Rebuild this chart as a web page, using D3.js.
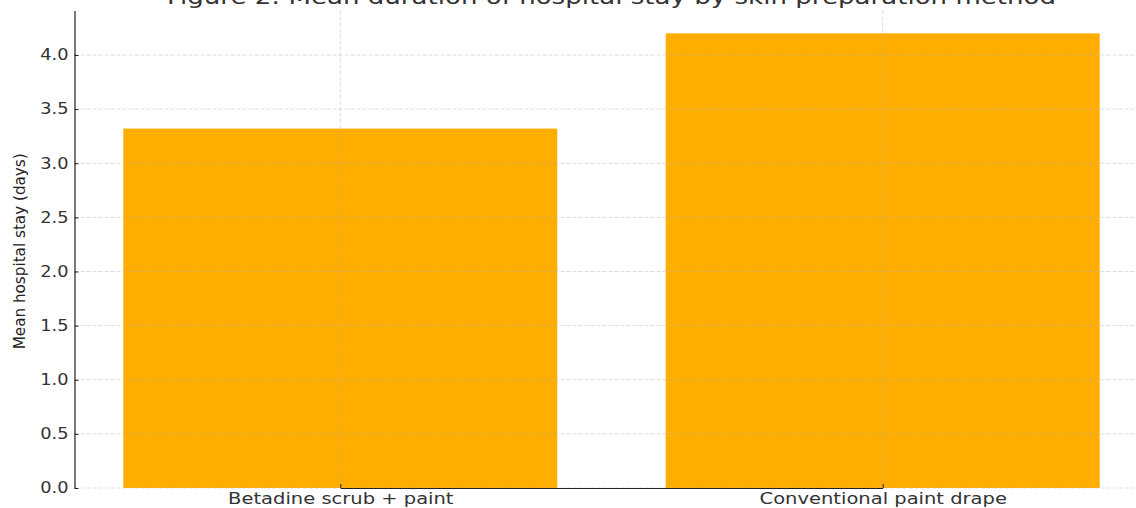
<!DOCTYPE html>
<html><head><meta charset="utf-8">
<script src="https://cdn.jsdelivr.net/npm/d3@7"></script>
<style>body{margin:0;background:#fff}svg{display:block}</style>
</head><body>
<svg id="c" width="1136" height="508"></svg>
<script>
const categories = ["Betadine scrub + paint", "Conventional paint drape"];
const values = [3.32, 4.2];
const yTicks = [0, 0.5, 1.0, 1.5, 2.0, 2.5, 3.0, 3.5, 4.0];
const title = "Figure 2: Mean duration of hospital stay by skin preparation method";
const yLabel = "Mean hospital stay (days)";

(function(){
const svg = d3.select("#c");
const pl = 74.5, pr = 1148.5, pt = 10.6, pb = 488;
const ymax = d3.max(values) * 1.05;
function widen(sel, k){
  sel.each(function(){
    const w = this.getComputedTextLength();
    d3.select(this).attr("textLength", w*k).attr("lengthAdjust", "spacingAndGlyphs");
  });
}

const step = (pr - pl) / (categories.length - 1 + 0.98);
const xc = d3.scalePoint().domain(categories).range([pl + 0.49*step, pr - 0.49*step]);
const y = d3.scaleLinear().domain([0, ymax]).range([pb, pt]);

// bars
svg.append("g").selectAll("rect").data(values).join("rect")
  .attr("x", (d,i)=>xc(categories[i]) - 0.4*step)
  .attr("width", 0.8*step)
  .attr("y", d=>y(d)).attr("height", d=>pb - y(d))
  .attr("fill", "#ffae00");

// grid (on top, semi-transparent)
const grid = svg.append("g").attr("stroke", "#b0b0b0").attr("stroke-opacity", 0.55)
  .attr("stroke-width", 0.8).attr("stroke-dasharray", "4,2");
grid.selectAll("line.h").data(yTicks).join("line").attr("class","h")
  .attr("x1", pl).attr("x2", pr).attr("y1", d=>y(d)).attr("y2", d=>y(d));
grid.selectAll("line.v").data(categories).join("line").attr("class","v")
  .attr("x1", d=>xc(d)).attr("x2", d=>xc(d)).attr("y1", pt).attr("y2", pb);

// y axis
const ya = d3.axisLeft(y).tickValues(yTicks).tickFormat(d3.format(".1f")).tickSizeInner(-4).tickSizeOuter(0).tickPadding(6);
const gy = svg.append("g").attr("transform", `translate(${pl},0)`).call(ya);
gy.select(".domain").attr("stroke", "#222").attr("stroke-width", 1.2);
gy.selectAll(".tick line").attr("stroke", "#222");
gy.selectAll("text").attr("font-family", "DejaVu Sans").attr("font-size", 15).attr("fill", "#333").call(widen, 1.185);

// x axis
const xa = d3.axisBottom(xc).tickSizeInner(-4).tickSizeOuter(0).tickPadding(5);
const gx = svg.append("g").attr("transform", `translate(0,${pb})`).call(xa);
gx.select(".domain").attr("stroke", "#222").attr("stroke-width", 1.2);
gx.selectAll(".tick line").attr("stroke", "#222");
gx.selectAll("text").attr("font-family", "DejaVu Sans").attr("font-size", 15).attr("fill", "#333").call(widen, 1.3);

// title
svg.append("text").attr("x", (pl+pr)/2).attr("y", 4)
  .attr("text-anchor", "middle").attr("font-family", "DejaVu Sans").attr("font-size", 22)
  .attr("fill", "#333").text(title).call(widen, 1.185);

// y label
svg.append("text").attr("transform", `translate(25,${(pt+pb)/2+2}) rotate(-90)`)
  .attr("text-anchor", "middle").attr("font-family", "DejaVu Sans").attr("font-size", 16)
  .attr("textLength", 196).attr("lengthAdjust", "spacingAndGlyphs")
  .attr("fill", "#222").text(yLabel);
})();
</script>
</body></html>
